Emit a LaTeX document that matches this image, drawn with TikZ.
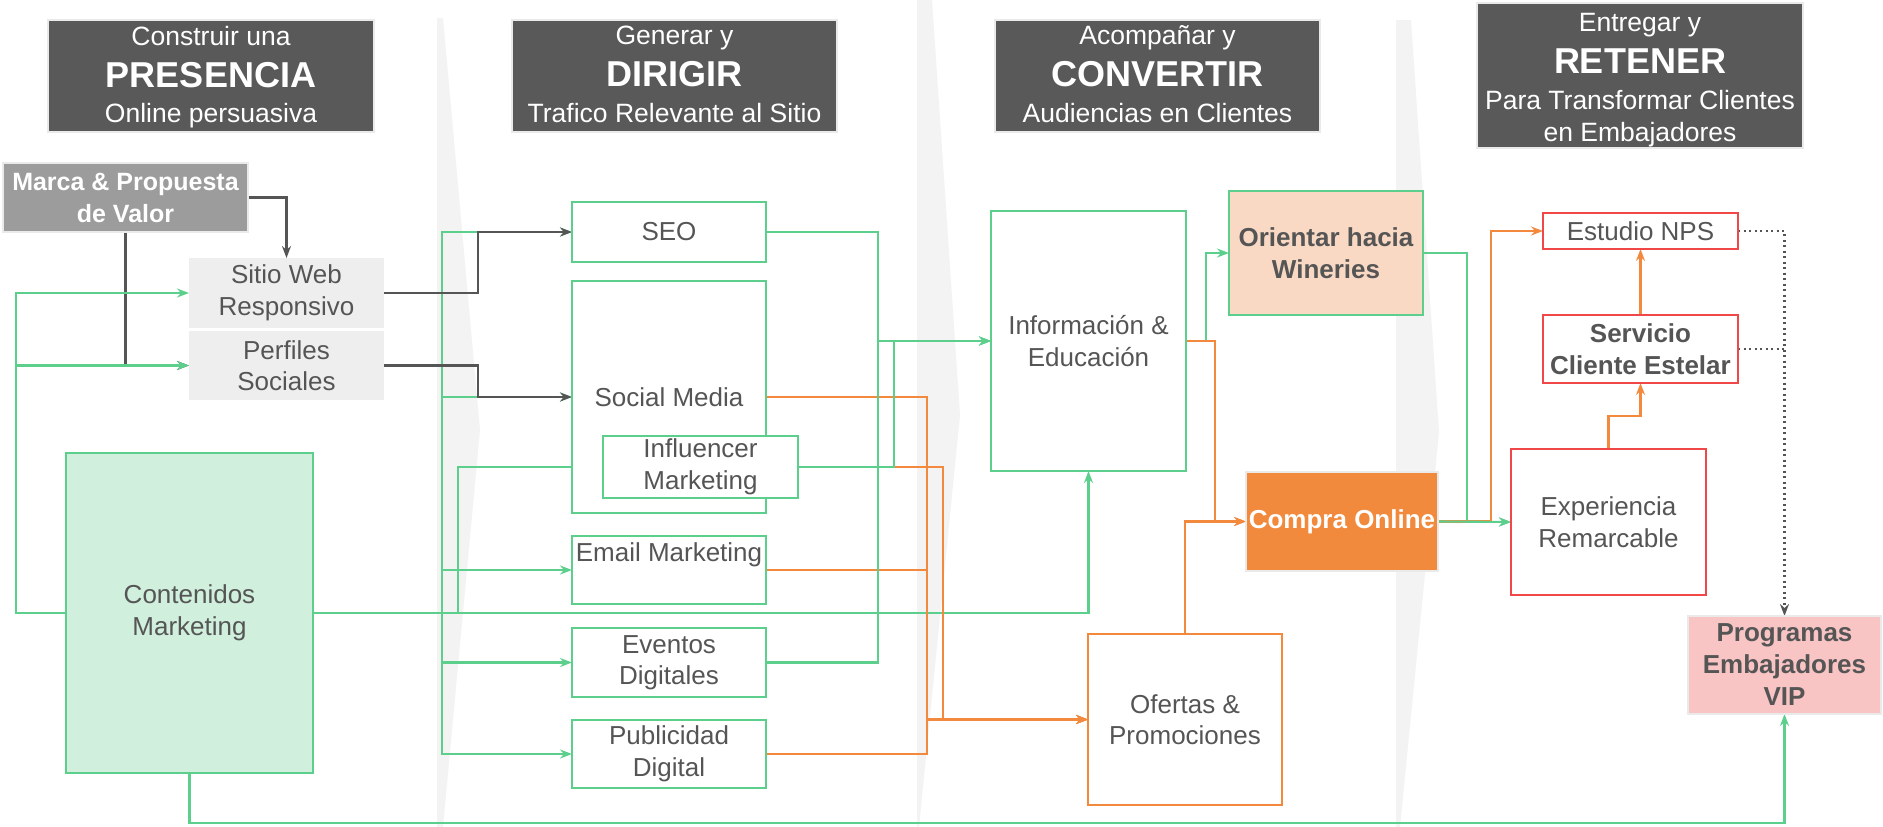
\documentclass[tikz,border=0pt]{standalone}
\usepackage{fontspec}
\setmainfont{Liberation Sans}
\usetikzlibrary{arrows.meta}
\definecolor{lg}{HTML}{5DCF8C}
\definecolor{og}{HTML}{F3893D}
\definecolor{rd}{HTML}{F04848}
\definecolor{dk}{HTML}{555555}
\definecolor{tx}{HTML}{555555}
\definecolor{hd}{HTML}{595959}
\definecolor{hdb}{HTML}{EAEAEA}
\definecolor{band}{HTML}{F3F3F3}
\definecolor{contf}{HTML}{D0EFDC}
\definecolor{orif}{HTML}{F9D9C4}
\definecolor{progf}{HTML}{F8C4C4}
\definecolor{marcaf}{HTML}{9C9C9C}
\definecolor{webf}{HTML}{EEEEEE}
\definecolor{compf}{HTML}{F28A3E}
\pgfdeclarelayer{bg}
\pgfdeclarelayer{edges}
\pgfsetlayers{bg,edges,main}
\newcommand\szN{\fontsize{26}{31.5}\selectfont}
\newcommand\szNB{\fontsize{26}{32}\selectfont\bfseries}
\newcommand\szMB{\fontsize{25}{32}\selectfont\bfseries}
\newcommand\szH{\fontsize{36}{40}\selectfont\bfseries}
\newcommand\szS{\fontsize{26.5}{31}\selectfont}
\tikzset{
  every node/.style={inner sep=0pt, outer sep=0pt, align=center, text=tx, font=\szN},
  gbox/.style={draw=lg, line width=2.2pt, fill=white},
  obox/.style={draw=og, line width=2.2pt, fill=white},
  rbox/.style={draw=rd, line width=2.2pt, fill=white},
  lbox/.style={draw=hdb, line width=2pt},
  hbox/.style={draw=hdb, line width=2pt, fill=hd},
  htxt/.style={text=white, text depth=0pt, font=\szS},
  hbig/.style={text=white, text depth=0pt, font=\szH},
  arr/.style={-{Stealth[length=12pt,width=9pt,inset=4pt]}},
  conn/.style={line width=2.1pt},
  gar/.style={conn, draw=lg, arr},
  oar/.style={conn, draw=og, arr},
  dar/.style={conn, draw=dk, arr},
  dotln/.style={conn, draw=dk, dash pattern=on 2pt off 3.5pt},
  dotar/.style={dotln, arr}
}
\begin{document}
\begin{tikzpicture}[x=1pt,y=-1pt]
\useasboundingbox (0,0) rectangle (1883,827);
\begin{pgfonlayer}{bg}
\fill[white] (0,0) rectangle (1883,827);
\fill[band] (437,18) -- (443,18) -- (480,430) -- (443,827) -- (437,827) -- cycle;
\fill[band] (917,0) -- (932,0) -- (960,415) -- (919,827) -- (917,827) -- cycle;
\fill[band] (1396,20) -- (1411,20) -- (1439,432) -- (1400,827) -- (1396,827) -- cycle;
\end{pgfonlayer}

% headers
\node[hbox, minimum width=326pt, minimum height=112pt] (h1) at (211,76) {};
\node[htxt] (h1a) at (211,36) {Construir una};
\node[hbig] (h1b) at (211,75) {PRESENCIA};
\node[htxt] (h1c) at (211,113) {Online persuasiva};
\node[hbox, minimum width=325pt, minimum height=112pt] (h2) at (674.5,76) {};
\node[htxt] (h2a) at (674.5,35) {Generar y};
\node[hbig] (h2b) at (674.5,74) {DIRIGIR};
\node[htxt] (h2c) at (674.5,113) {Trafico Relevante al Sitio};
\node[hbox, minimum width=325pt, minimum height=112pt] (h3) at (1157.5,76) {};
\node[htxt] (h3a) at (1157.5,35) {Acompañar y};
\node[hbig] (h3b) at (1157.5,74) {CONVERTIR};
\node[htxt] (h3c) at (1157.5,113) {Audiencias en Clientes};
\node[hbox, minimum width=326pt, minimum height=145pt] (h4) at (1640,75.5) {};
\node[htxt] (h4a) at (1640,22) {Entregar y};
\node[hbig] (h4b) at (1640,61) {RETENER};
\node[htxt] (h4c) at (1640,100) {Para Transformar Clientes};
\node[htxt] (h4d) at (1640,132) {en Embajadores};

% column 1
\node[lbox, fill=marcaf, minimum width=245pt, minimum height=69pt, text=white, font=\szMB] (marca) at (125.5,197.5) {Marca \& Propuesta\\de Valor};
\node[fill=webf, minimum width=195pt, minimum height=70pt] (sitio) at (286.5,293) {Sitio Web\\Responsivo};
\node[fill=webf, minimum width=195pt, minimum height=69pt] (perf) at (286.5,365.5) {Perfiles\\Sociales};
\node[gbox, fill=contf, minimum width=247pt, minimum height=320pt] (cont) at (189.5,613) {Contenidos\\Marketing};

% column 2
\node[gbox, minimum width=194pt, minimum height=60pt] (seo) at (669,232) {SEO};
\node[gbox, minimum width=194pt, minimum height=232pt] (social) at (669,397) {Social Media};
\node[gbox, minimum width=195pt, minimum height=62pt] (infl) at (700.5,467) {Influencer\\Marketing};
\node[gbox, minimum width=194pt, minimum height=68pt] (email) at (669,570) {};
\node[text depth=0pt] (emailt) at (669,552) {Email Marketing};
\node[gbox, minimum width=194pt, minimum height=69pt] (event) at (669,662.5) {Eventos\\Digitales};
\node[gbox, minimum width=194pt, minimum height=68pt] (publ) at (669,754) {Publicidad\\Digital};

% column 3
\node[gbox, minimum width=195pt, minimum height=260pt] (info) at (1088.5,341) {Información \&\\Educación};
\node[gbox, fill=orif, minimum width=194pt, minimum height=124pt, font=\szNB] (orient) at (1326,253) {Orientar hacia\\Wineries};
\node[lbox, fill=compf, minimum width=192pt, minimum height=99pt, text=white, font=\szNB] (compra) at (1342,521.5) {Compra Online};
\node[obox, minimum width=194pt, minimum height=171pt] (ofer) at (1185,719.5) {Ofertas \&\\Promociones};

% column 4
\node[rbox, minimum width=195pt, minimum height=36pt] (estud) at (1640.5,231) {Estudio NPS};
\node[rbox, minimum width=195pt, minimum height=68pt, font=\szNB] (serv) at (1640.5,349) {Servicio\\Cliente Estelar};
\node[rbox, minimum width=195pt, minimum height=146pt] (exper) at (1608.5,522) {Experiencia\\Remarcable};
\node[lbox, fill=progf, minimum width=193pt, minimum height=98pt, font=\szNB] (prog) at (1784.5,665) {Programas\\Embajadores\\VIP};
\coordinate (dj) at (1784.5,349);

\begin{pgfonlayer}{edges}
% dark from Marca (below the green)
\draw[dar] (marca.east) -| (sitio.north);
\draw[dar] (marca.south) |- (perf.west);
% green from Contenidos
\draw[gar] (cont.west) -- (16,613) |- (sitio.west);
\draw[gar] (cont.west) -- (16,613) |- (perf.west);
\draw[gar] (cont.east) -- (442,613) |- (seo.west);
\draw[gar] (cont.east) -- (442,613) |- (social.west);
\draw[gar] (cont.east) -- (442,613) |- (email.west);
\draw[gar] (cont.east) -- (442,613) |- (event.west);
\draw[gar] (cont.east) -- (442,613) |- (publ.west);
\draw[gar] (cont.east) -- (458,613) |- (infl.west);
\draw[gar] (cont.east) -| (info.south);
\draw[gar] (cont.south) |- (1784.5,823) -- (prog.south);
% dark
\draw[dar] (sitio.east) -- (478,293) |- (seo.west);
\draw[dar] (perf.east) -- (478,365.5) |- (social.west);
% orange to Ofertas
\draw[oar] (social.east) -- (927,397) |- (ofer.west);
\draw[oar] (email.east) -- (927,570) |- (ofer.west);
\draw[oar] (publ.east) -- (927,754) |- (ofer.west);
\draw[oar] (infl.east) -- (943,467) |- (ofer.west);
% green to Informacion
\draw[gar] (seo.east) -- (878,232) |- (info.west);
\draw[gar] (event.east) -- (878,662.5) |- (info.west);
\draw[gar] (infl.east) -- (894,467) |- (info.west);
% from Informacion / Ofertas
\draw[gar] (info.east) -- (1206,341) |- (orient.west);
\draw[oar] (info.east) -- (1215,341) |- (compra.west);
\draw[oar] (ofer.north) |- (compra.west);
% right side
\draw[gar] (orient.east) -- (1467,253) |- (exper.west);
\draw[oar] (compra.east) -- (1491,521.5) |- (estud.west);
\draw[gar] (compra.east) -- (exper.west);
\draw[oar] (exper.north) -- (1608.5,416) -| (serv.south);
\draw[oar] (serv.north) -- (estud.south);
\draw[dotar] (estud.east) -| (prog.north);
\draw[dotln] (serv.east) -- (dj);
\end{pgfonlayer}
\end{tikzpicture}
\end{document}
